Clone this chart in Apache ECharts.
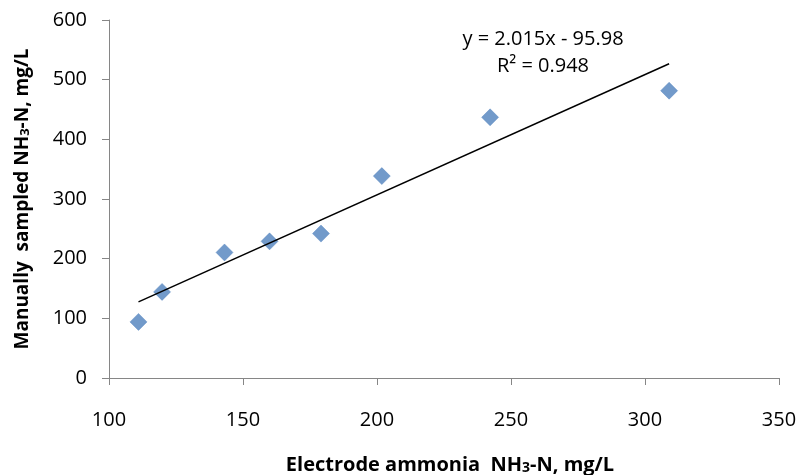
<!DOCTYPE html>
<html><head><meta charset="utf-8">
<script src="https://cdn.jsdelivr.net/npm/echarts@6/dist/echarts.min.js"></script>
<style>html,body{margin:0;padding:0;background:#fff;overflow:hidden}#c{width:801px;height:475px}</style>
</head><body><div id="c"></div>
<script>
const electrode = [111, 119.8, 143.1, 159.9, 179.1, 201.8, 242.2, 309.0];
const manual = [94, 144.3, 210.4, 229, 242, 338.4, 436.9, 481.5];
const trendCoef = [2.015, -95.98];
const eqLines = ['y = 2.015x - 95.98', 'R² = 0.948'];
const xTicks = [100, 150, 200, 250, 300, 350];
const yTicks = [0, 100, 200, 300, 400, 500, 600];

const pts = electrode.map((x, i) => [x, manual[i]]);
const xMin = Math.min(...electrode), xMax = Math.max(...electrode);
const trend = [[xMin, trendCoef[0]*xMin + trendCoef[1]], [xMax, trendCoef[0]*xMax + trendCoef[1]]];

const FONT = 'Open Sans';
function nameRich(fs) {
  return {
    b: {fontSize: fs, fontWeight: 'bold', color: '#000', fontFamily: FONT, lineHeight: fs + 3, verticalAlign: 'bottom'},
    s: {fontSize: Math.round(fs * 0.68), fontWeight: 'bold', color: '#000', fontFamily: FONT, lineHeight: Math.round(fs * 0.68) + 2, verticalAlign: 'bottom'}
  };
}
const chart = echarts.init(document.getElementById('c'));
chart.setOption({
  animation: false,
  textStyle: {fontFamily: FONT},
  grid: {left: 109, right: 22, top: 20, bottom: 97, containLabel: false, outerBoundsMode: 'none'},
  xAxis: {
    type: 'value', min: xTicks[0], max: xTicks[xTicks.length-1], interval: 50,
    axisLine: {show: true, lineStyle: {color: '#868686', width: 1}},
    axisTick: {show: true, length: 7, lineStyle: {color: '#868686'}},
    splitLine: {show: false},
    axisLabel: {fontSize: 20, color: '#000', margin: 32, fontFamily: FONT},
    name: '{b|Electrode ammonia  NH}{s|3}{b|-N, mg/L}',
    nameLocation: 'middle', nameGap: 74,
    nameTextStyle: {rich: nameRich(20), padding: [0, 0, 0, 12]}
  },
  yAxis: {
    type: 'value', min: yTicks[0], max: yTicks[yTicks.length-1], interval: 100,
    axisLine: {show: true, lineStyle: {color: '#868686', width: 1}},
    axisTick: {show: true, length: 7, lineStyle: {color: '#868686'}},
    splitLine: {show: false},
    axisLabel: {fontSize: 20, color: '#000', margin: 22, fontFamily: FONT},
    name: '{b|Manually  sampled NH}{s|3}{b|-N, mg/L}',
    nameLocation: 'middle', nameGap: 77, nameRotate: 90,
    nameTextStyle: {rich: nameRich(19)}
  },
  series: [
    {type: 'line', data: trend, symbol: 'none', lineStyle: {color: '#000', width: 1.5}, z: 3, silent: true},
    {type: 'scatter', data: pts, symbol: 'diamond', symbolSize: 17, itemStyle: {color: '#4F81BD', borderColor: '#4A7EBB', borderWidth: 0.5}, z: 2}
  ],
  graphic: [{
    type: 'text', x: 543, y: 26,
    style: {text: eqLines.join('\n'), fontSize: 20, fontFamily: FONT, fill: '#000', align: 'center', verticalAlign: 'top', lineHeight: 27}
  }]
});
</script></body></html>
